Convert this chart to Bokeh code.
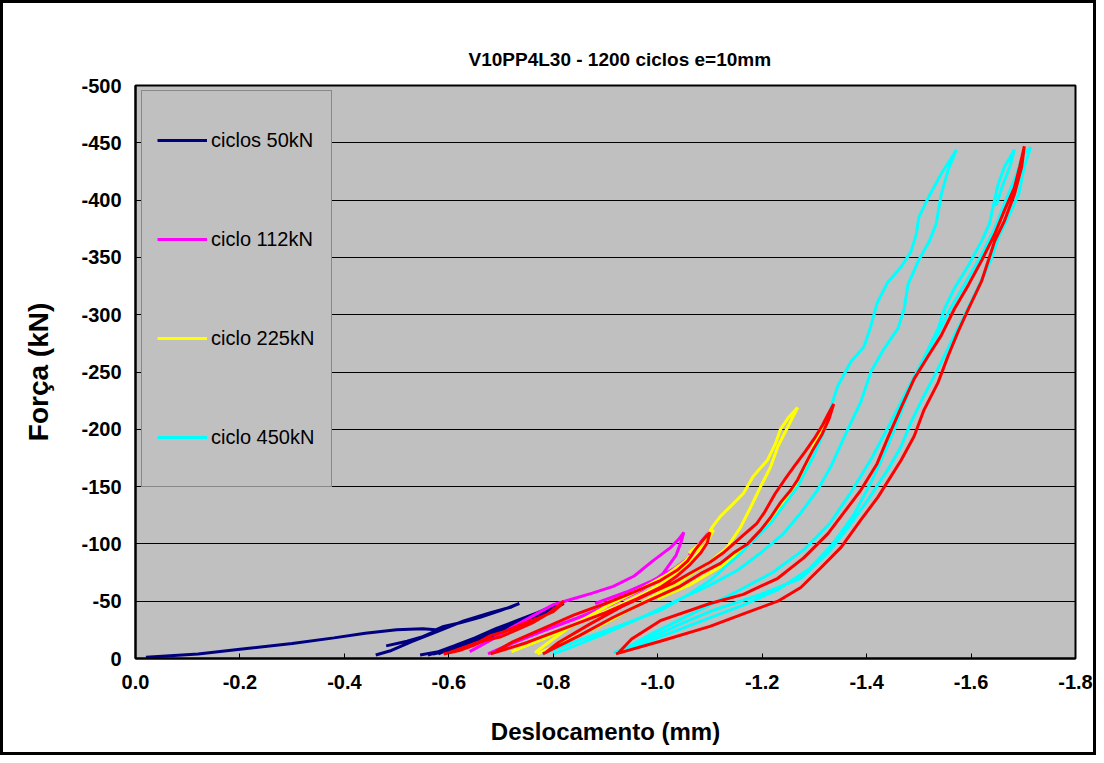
from bokeh.plotting import figure
from bokeh.models import Range1d, FixedTicker, NumeralTickFormatter, Legend, LegendItem
from bokeh.embed import file_html
from bokeh.resources import INLINE

nan = float("nan")

# ---- data (Deslocamento mm, Força kN); NaN separates loops ----
x_50kN = [-0.02, -0.12, -0.20, -0.30, -0.38, -0.44, -0.50, -0.55, -0.575, -0.59, -0.62, -0.66, -0.70, -0.735,
          -0.72, -0.68, -0.63, -0.58, -0.53, -0.49, -0.46, nan,
          -0.48, -0.52, -0.55, -0.57, -0.59, nan,
          -0.545, -0.58, -0.62, -0.66, -0.70, -0.74, -0.77, -0.795, -0.815, -0.80, -0.77, -0.73, -0.69, -0.65, -0.61, -0.575, -0.56, nan,
          -0.57, -0.61, -0.65, -0.69, -0.73, -0.77, -0.80, -0.82, -0.79, -0.75, -0.71, -0.67, -0.63, -0.595, -0.58]
F_50kN = [-1, -4, -8, -13, -18, -22, -25, -26, -25, -28, -31, -36, -42, -48,
          -45, -40, -33, -24, -15, -7, -3, nan,
          -11, -15, -19, -23, -26, nan,
          -3, -6, -11, -17, -24, -31, -37, -44, -49, -46, -40, -33, -26, -18, -11, -5, -3, nan,
          -4, -8, -14, -21, -28, -35, -43, -48, -42, -35, -28, -21, -14, -7, -4]

x_112kN = [-0.675, -0.72, -0.78, -0.85, -0.915, -0.97, -1.01, -1.035, -1.045, -1.05,
           -1.04, -1.025, -0.99, -0.955, -0.915, -0.875, -0.83, -0.80, -0.76, -0.72, -0.68, -0.64, nan,
           -0.88, -0.94, -0.99, -1.03, -1.06, -1.08, -1.095, -1.10, -1.085, -1.072, -1.06]
F_112kN = [-4, -13, -24, -36, -48, -60, -74, -90, -102, -110,
           -104, -97, -85, -72, -63, -57, -51, -47, -37, -27, -16, -6, nan,
           -48, -58, -68, -78, -88, -98, -106, -111, -103, -96, -90]

x_225kN = [-0.77, -0.83, -0.90, -0.96, -1.005, -1.04, -1.068, -1.10, -1.133, -1.158, -1.178, -1.197, -1.216, -1.23, -1.249, -1.268,
           -1.25, -1.235, -1.225, -1.21, -1.183, -1.164, -1.14, -1.12, -1.105, -1.092, -1.075, -1.05, -1.02, -0.97, -0.90, -0.83, -0.785, -0.765, nan,
           -0.72, -0.78, -0.85, -0.92, -0.98, -1.03, -1.07, -1.095, -1.107, -1.09, -1.06, nan,
           -1.0, -1.06, -1.12, -1.17, -1.21, -1.24, -1.265, -1.285, -1.30, -1.315, -1.325]
F_225kN = [-4, -16, -31, -46, -58, -66, -75, -84, -97, -114, -132, -150, -167, -185, -202, -219,
           -210, -200, -187, -173, -159, -144, -133, -124, -115, -105, -95, -84, -74, -61, -45, -27, -12, -5, nan,
           -6, -17, -31, -45, -58, -72, -88, -102, -112, -104, -92, nan,
           -52, -64, -80, -98, -118, -135, -150, -170, -187, -200, -212]

x_450kN = [-0.78, -0.85, -0.93, -1.005, -1.06, -1.10, -1.164, -1.216, -1.268, -1.30, -1.32, -1.335, -1.345, -1.37, -1.395, -1.408,
           -1.42, -1.44, -1.465, -1.485, -1.495, -1.50, -1.518, -1.543, -1.572,
           -1.556, -1.543, -1.533, -1.52, -1.499, -1.479, -1.472, -1.46, -1.433, -1.408, -1.389, -1.364, -1.331, -1.306, -1.274,
           -1.241, -1.197, -1.153, -1.10, -1.043, -0.98, -0.90, -0.83, -0.80, nan,
           -0.915, -0.953, -1.005, -1.043, -1.10, -1.197, -1.274, -1.326, -1.364, -1.402, -1.441, -1.466, -1.485, -1.504, -1.529,
           -1.549, -1.568, -1.587, -1.606, -1.625, -1.639, -1.652, -1.671, -1.691, -1.702, -1.714,
           -1.70, -1.685, -1.665, -1.645, -1.62, -1.59, -1.56, -1.535, -1.505, -1.475, -1.445, -1.41, -1.37, -1.33, -1.28,
           -1.22, -1.15, -1.07, -0.99, -0.935, -0.92, nan,
           -0.93, -1.0, -1.08, -1.16, -1.23, -1.29, -1.335, -1.375, -1.41, -1.44, -1.466, -1.491, -1.518, -1.537, -1.549,
           -1.568, -1.595, -1.62, -1.635, -1.645, -1.652, -1.664, -1.683, -1.675, -1.66, -1.648]
F_450kN = [-4, -16, -29, -42, -56, -68, -94, -118, -150, -178, -200, -224, -238, -259, -272, -290,
           -310, -328, -341, -355, -370, -385, -402, -423, -444,
           -426, -405, -379, -364, -347, -326, -305, -288, -270, -250, -224, -200, -167, -147, -127,
           -109, -92, -77, -64, -52, -38, -22, -9, -4, nan,
           -5, -12, -22, -30, -41, -56, -70, -92, -114, -138, -165, -185, -206, -224, -246,
           -264, -282, -299, -317, -335, -349, -367, -385, -405, -429, -446,
           -440, -420, -398, -375, -352, -328, -305, -282, -258, -232, -205, -175, -145, -118, -95,
           -75, -58, -40, -22, -8, -4, nan,
           -5, -18, -32, -46, -60, -78, -100, -125, -155, -185, -215, -245, -270, -288, -305,
           -323, -343, -364, -379, -400, -414, -429, -444, -430, -412, -395]

x_red = [-0.59, -0.62, -0.65, -0.67, -0.70, -0.73, -0.76, -0.79, -0.81, -0.82,
         -0.815, -0.80, -0.77, -0.74, -0.71, -0.68, -0.66, -0.63, -0.60, nan,
         -0.68, -0.75, -0.82, -0.90, -0.96, -1.005, -1.037, -1.062, -1.082, -1.095, -1.10,
         -1.088, -1.072, -1.057, -1.037, -1.005, -0.96, -0.90, -0.84, -0.78, -0.72, -0.69, nan,
         -0.78, -0.85, -0.915, -0.98, -1.043, -1.082, -1.12, -1.145, -1.172, -1.197, -1.216, -1.235, -1.255, -1.268,
         -1.28, -1.297, -1.315, -1.328, -1.337,
         -1.326, -1.316, -1.30, -1.283, -1.262, -1.243, -1.225, -1.205, -1.19, -1.165, -1.145, -1.125, -1.10,
         -1.06, -1.03, -0.99, -0.93, -0.87, -0.81, -0.785, nan,
         -0.92, -1.005, -1.10, -1.164, -1.23, -1.274, -1.312, -1.351, -1.389, -1.422, -1.466, -1.491, -1.51, -1.537,
         -1.556, -1.575, -1.595, -1.62, -1.633, -1.645, -1.664, -1.683, -1.697, -1.702,
         -1.693, -1.683, -1.664, -1.645, -1.62, -1.595, -1.568, -1.543, -1.518, -1.491, -1.466, -1.441, -1.42,
         -1.389, -1.356, -1.326, -1.28, -1.23, -1.164, -1.10, -1.005, -0.95, -0.925]
F_red = [-4, -7, -12, -16, -19, -25, -31, -39, -46, -50,
         -47, -41, -35, -30, -24, -20, -15, -10, -5, nan,
         -4, -14, -26, -40, -52, -62, -72, -82, -92, -101, -110,
         -104, -95, -85, -77, -68, -59, -48, -38, -26, -14, -6, nan,
         -4, -20, -36, -50, -63, -74, -83, -92, -100, -112, -123, -136, -147, -156,
         -167, -182, -196, -209, -222,
         -213, -204, -192, -181, -168, -156, -144, -128, -118, -108, -100, -92, -84,
         -74, -66, -58, -45, -30, -14, -5, nan,
         -4, -15, -28, -39, -50, -62, -79, -97, -121, -141, -173, -194, -217, -241,
         -264, -285, -305, -329, -347, -364, -382, -405, -429, -447,
         -429, -411, -391, -370, -347, -326, -305, -282, -264, -244, -219, -193, -170,
         -147, -127, -109, -88, -70, -56, -48, -33, -17, -5]

series_labels = ["ciclos 50kN", "ciclo 112kN", "ciclo 225kN", "ciclo 450kN"]
x_ticks = [0.0, -0.2, -0.4, -0.6, -0.8, -1.0, -1.2, -1.4, -1.6, -1.8]
y_ticks = [0, -50, -100, -150, -200, -250, -300, -350, -400, -450, -500]

FONT = "Liberation Sans"

p = figure(width=1096, height=755, output_backend="svg", toolbar_location=None,
           x_range=Range1d(0, -1.8), y_range=Range1d(0, -500),
           min_border_left=132, min_border_right=24, min_border_top=82, min_border_bottom=100)
p.styles = {"border": "3px solid black"}
p.background_fill_color = "#C0C0C0"
p.border_fill_color = "white"
p.outline_line_color = "black"
p.outline_line_width = 2

p.title.text = "V10PP4L30 - 1200 ciclos e=10mm"
p.title.align = "left"
p.title.offset = 333
p.title.text_font = FONT
p.title.text_font_size = "19px"
p.title.text_font_style = "bold"
p.title.text_color = "black"
p.title.standoff = 31

p.xgrid.visible = False
p.ygrid.grid_line_color = "black"
p.ygrid.grid_line_width = 1

p.xaxis.ticker = FixedTicker(ticks=x_ticks)
p.xaxis.formatter = NumeralTickFormatter(format="0.0")
p.yaxis.ticker = FixedTicker(ticks=y_ticks)
p.yaxis.formatter = NumeralTickFormatter(format="0")
for ax in (p.xaxis, p.yaxis):
    ax.major_tick_in = 5
    ax.major_tick_out = 0
    ax.minor_tick_line_color = None
    ax.axis_line_color = "black"
    ax.axis_line_width = 2
    ax.major_label_text_font = FONT
    ax.major_label_text_font_size = "20px"
    ax.major_label_text_font_style = "bold"
    ax.major_label_text_color = "black"
    ax.axis_label_text_font = FONT
    ax.axis_label_text_font_style = "bold"
    ax.axis_label_text_color = "black"

p.xaxis.axis_label = "Deslocamento (mm)"
p.xaxis.axis_label_text_font_size = "24px"
p.xaxis.major_label_standoff = 16
p.xaxis.axis_label_standoff = 26
p.yaxis.axis_label = "Força (kN)"
p.yaxis.axis_label_text_font_size = "28px"
p.yaxis.major_label_standoff = 14
p.yaxis.axis_label_standoff = 24

lw = 3
r1 = p.line(x_50kN, F_50kN, line_color="#000080", line_width=lw)
r2 = p.line(x_112kN, F_112kN, line_color="#FF00FF", line_width=lw)
r3 = p.line(x_225kN, F_225kN, line_color="#FFFF00", line_width=lw)
r4 = p.line(x_450kN, F_450kN, line_color="#00FFFF", line_width=lw)
r5 = p.line(x_red, F_red, line_color="#FF0000", line_width=lw)

legend = Legend(items=[LegendItem(label=lab, renderers=[r]) for lab, r in zip(series_labels, [r1, r2, r3, r4])],
                location=(6, 171))
legend.background_fill_color = "#C0C0C0"
legend.background_fill_alpha = 1
legend.border_line_color = "#505050"
legend.border_line_width = 1
legend.padding = 15
legend.margin = 0
legend.spacing = 31
legend.glyph_width = 50
legend.glyph_height = 68
legend.label_height = 68
legend.label_width = 105
legend.label_standoff = 4
legend.label_text_font = FONT
legend.label_text_font_size = "20px"
legend.label_text_color = "black"
p.add_layout(legend)

open("out.html", "w").write(file_html(p, INLINE))
